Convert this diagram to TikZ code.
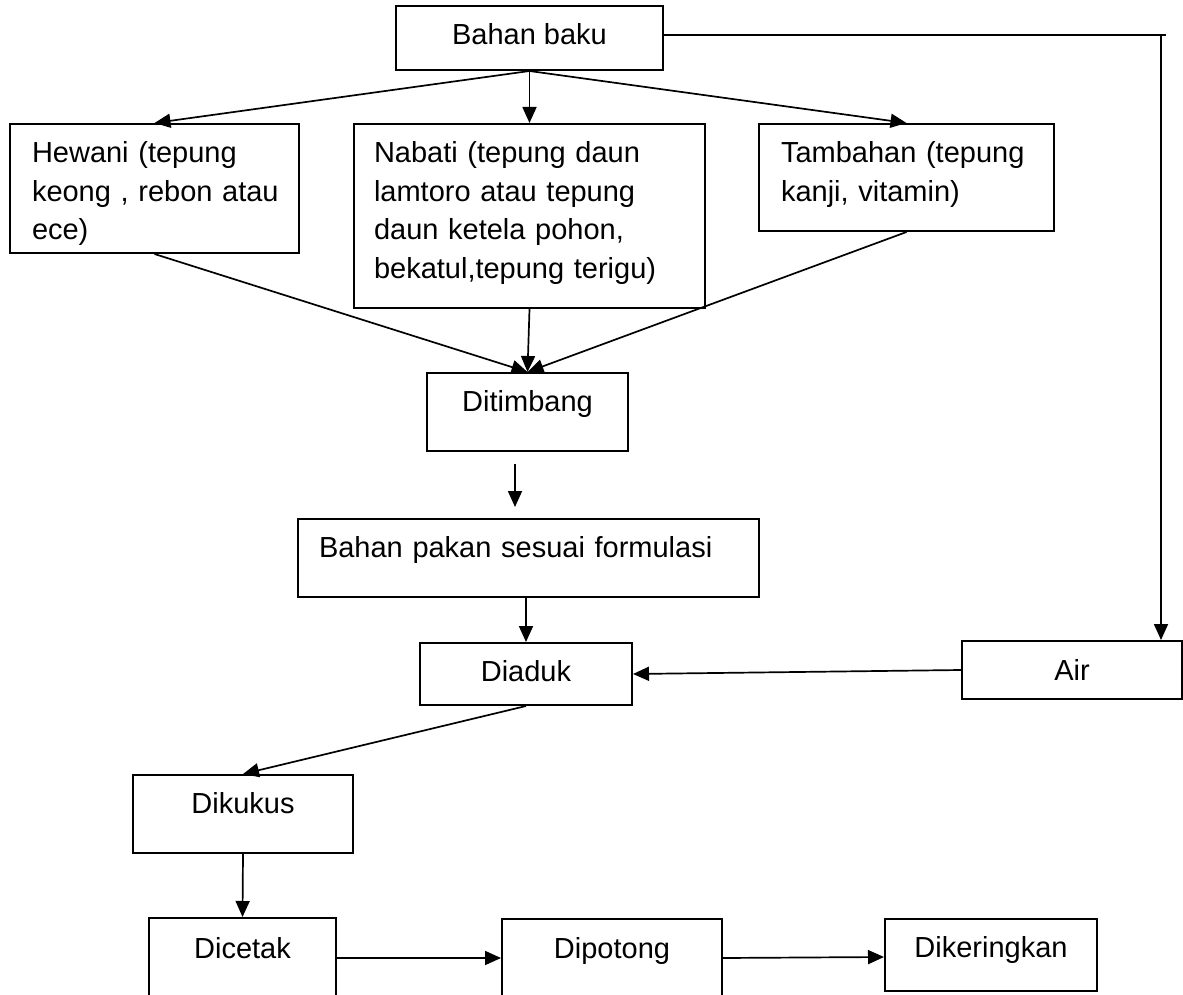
\documentclass[tikz,border=0pt]{standalone}
\usepackage{fontspec}
\setmainfont{Liberation Sans}
\usetikzlibrary{arrows.meta,calc}
\begin{document}
\begin{tikzpicture}[x=1pt,y=-1pt,
  box/.style={draw, line width=2pt, inner ysep=0pt, inner xsep=0pt,
    font=\fontsize{29}{38.5}\selectfont},
  arr/.style={line width=1.7pt, -{Triangle[length=16pt,width=14pt]}}]
\useasboundingbox (0,0) rectangle (1183,995);
\clip (0,0) rectangle (1183,995);
% nodes
\node[box, minimum width=267pt, text height=39pt, text depth=25pt, anchor=base] (bb) at (529.5,45) {Bahan baku};
\node[box, anchor=north west, text width=245pt, inner xsep=22pt, align=left, text height=39pt, text depth=90pt] (hew) at (9,123) {\mbox{Hewani (tepung}\\\mbox{keong , rebon atau}\\\mbox{ece)}};
\node[box, anchor=north west, text width=311pt, inner xsep=20pt, align=left, text height=39pt, text depth=145pt] (nab) at (353,123) {\mbox{Nabati (tepung daun}\\\mbox{lamtoro atau tepung}\\\mbox{daun ketela pohon,}\\\mbox{bekatul,tepung terigu)}};
\node[box, anchor=north west, text width=251pt, inner xsep=22pt, align=left, text height=39pt, text depth=68pt] (tam) at (758,123) {\mbox{Tambahan (tepung}\\\mbox{kanji, vitamin)}};
\node[box, minimum width=201pt, text height=38pt, text depth=40pt, anchor=base] (dit) at (527.5,411) {Ditimbang};
\node[box, anchor=base west, inner xsep=21pt, text width=419pt, align=left, text height=38pt, text depth=40pt] (bp) at (297,557) {Bahan pakan sesuai formulasi};
\node[box, minimum width=212pt, text height=38pt, text depth=24pt, anchor=base] (dia) at (526,681) {Diaduk};
\node[box, minimum width=220pt, text height=39pt, text depth=19pt, anchor=base] (air) at (1072,680) {Air};
\node[box, minimum width=220pt, text height=38pt, text depth=40pt, anchor=base] (dik) at (243,813) {Dikukus};
\node[box, minimum width=187pt, text height=40pt, text depth=70pt, anchor=base] (dic) at (242.5,958) {Dicetak};
\node[box, minimum width=220pt, text height=39pt, text depth=70pt, anchor=base] (dip) at (612,958) {Dipotong};
\node[box, minimum width=212pt, text height=38pt, text depth=34pt, anchor=base] (dkr) at (991,957) {Dikeringkan};
\coordinate (corner) at (1161,35);
% connectors
\draw[arr] (bb.south) -- (hew.north);
\draw[arr] (bb.south -| nab.north) -- (nab.north);
\draw[arr] (bb.south) -- (tam.north);
\draw[arr] (hew.south) -- (dit.north);
\draw[arr] (nab.south) -- (dit.north);
\draw[arr] (tam.south) -- (dit.north);
\draw[arr] ($(dit.south)+(-12.5,12)$) -- ($(bp.north)+(-13.5,-11)$);
\draw[arr] (bp.south -| dia.north) -- (dia.north);
\draw[line width=1.7pt] (bb.east |- corner) -- ($(corner)+(5,0)$);
\draw[arr] (corner) -- (corner |- air.north);
\draw[arr] (air.west) -- (dia.east);
\draw[arr] (dia.south) -- (dik.north);
\draw[arr] (dik.south) -- (dic.north);
\draw[arr] (dic.base east) -- (dip.base west);
\draw[arr] (dip.base east) -- (dkr.base west);
\end{tikzpicture}
\end{document}
